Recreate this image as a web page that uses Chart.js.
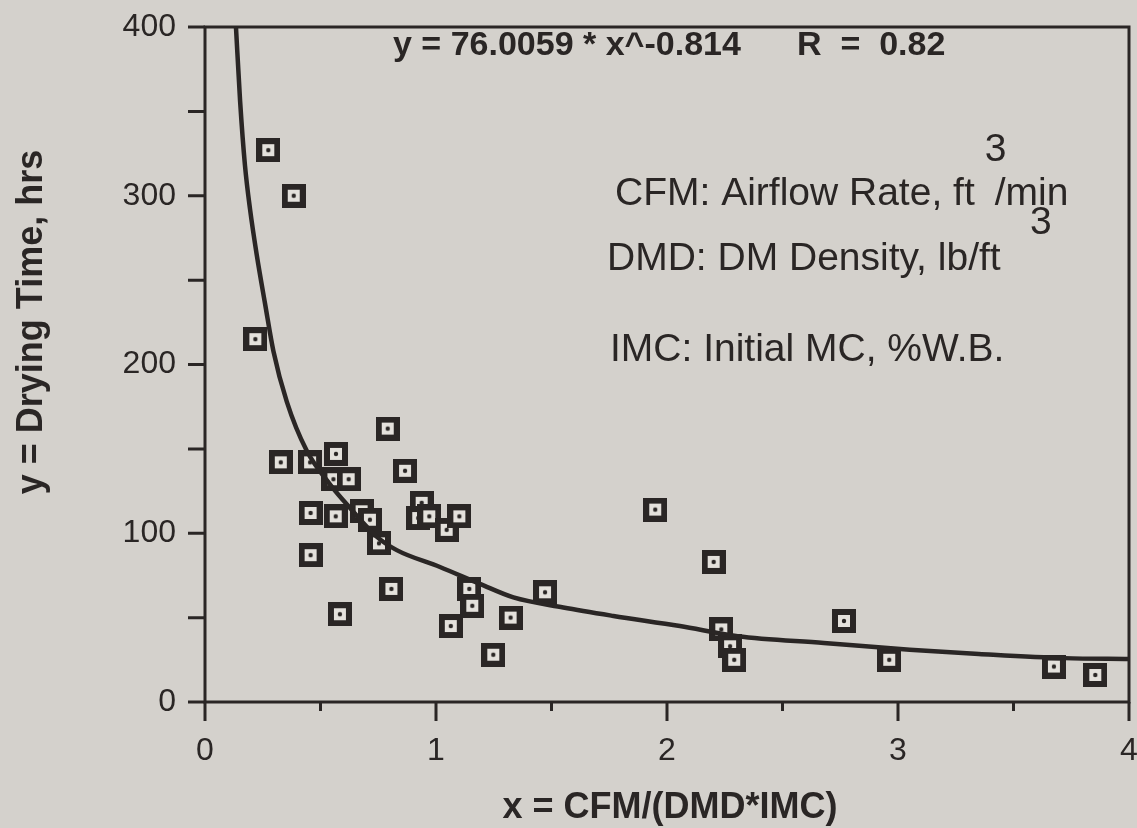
<!DOCTYPE html>
<html>
<head>
<meta charset="utf-8">
<script src="https://cdn.jsdelivr.net/npm/chart.js@4/dist/chart.umd.min.js"></script>
<style>
  html, body { margin: 0; padding: 0; background: #d4d1cc; }
  #wrap { width: 1137px; height: 828px; }
</style>
</head>
<body>
<div id="wrap"><canvas id="Chart1" width="1137" height="828"></canvas></div>
<script>
// measured points: x = CFM/(DMD*IMC), y = drying time (hrs)
const ratioX = [0.274, 0.384, 0.218, 0.328, 0.455, 0.567, 0.791, 0.866, 0.556, 0.622,
	0.457, 0.566, 0.678, 0.714, 0.753, 0.938, 0.923, 0.971, 1.046, 1.101,
	0.457, 0.807, 1.144, 1.157, 1.064, 1.323, 1.248, 1.472, 0.584, 1.949,
	2.202, 2.235, 2.273, 2.291, 2.766, 2.962, 3.675, 3.854];
const dryHours = [327, 300, 215, 142, 142, 147, 162, 137, 132, 132,
	112, 110, 113, 108, 94, 118, 109, 110, 102, 110,
	87, 67, 67, 57, 45, 50, 28, 65, 52, 114,
	83, 43, 33, 25, 48, 25, 21, 16];

// fitted curve as drawn in the figure
const fitX = [0.134, 0.152, 0.173, 0.195, 0.224, 0.26, 0.296, 0.354, 0.44, 0.541, 0.628, 0.743,
	0.83, 1.017, 1.19, 1.335, 1.551, 1.768, 2.056, 2.306, 2.679, 3.051, 3.35, 3.722, 4.0];
const fitY = [400, 356, 318, 292, 265, 236, 208, 178, 149, 129, 115, 98,
	90, 80, 70, 62, 56, 51, 45, 39, 35, 31, 28.5, 26, 25.5];

const xTickLabels = ['0', '1', '2', '3', '4'];
const yTickLabels = ['0', '100', '200', '300', '400'];

const ink = '#2a2625';
const paper = '#d4d1cc';

const makeBox = () => {
	const c = document.createElement('canvas');
	c.width = 24; c.height = 24;
	const g = c.getContext('2d');
	g.fillStyle = ink;
	g.fillRect(0, 0, 24, 24);
	g.fillStyle = '#e4e1dc';
	g.fillRect(6, 6, 12, 12);
	g.fillStyle = ink;
	g.beginPath();
	g.arc(12, 12, 2.2, 0, Math.PI * 2);
	g.fill();
	return c;
}

const pts = ratioX.map((x, i) => ({ x: x, y: dryHours[i] }));
const curve = fitX.map((x, i) => ({ x: x, y: fitY[i] }));

// frame, tick marks and the text notes
const decor = {
	id: 'decor',
	beforeDraw(chart) {
		const ctx = chart.ctx;
		ctx.save();
		ctx.fillStyle = paper;
		ctx.fillRect(0, 0, chart.width, chart.height);
		ctx.restore();
	},
	beforeDatasetsDraw(chart) {
		const ctx = chart.ctx;
		const a = chart.chartArea;
		const xs = chart.scales.x, ys = chart.scales.y;
		ctx.save();
		ctx.strokeStyle = ink;
		ctx.lineWidth = 3;
		ctx.strokeRect(a.left, a.top, a.right - a.left, a.bottom - a.top);
		ctx.beginPath();
		for (let v = 0; v <= 4.001; v += 0.5) {
			const px = xs.getPixelForValue(v);
			const len = Math.abs(v - Math.round(v)) < 0.01 ? 19 : 9;
			ctx.moveTo(px, a.bottom);
			ctx.lineTo(px, a.bottom + len);
		}
		for (let v = 0; v <= 400; v += 50) {
			const py = ys.getPixelForValue(v);
			ctx.moveTo(a.left, py);
			ctx.lineTo(a.left - 17, py);
		}
		ctx.stroke();
		ctx.restore();
	},
	afterDraw(chart) {
		const ctx = chart.ctx;
		ctx.save();
		ctx.fillStyle = ink;
		ctx.textBaseline = 'middle';
		ctx.textAlign = 'left';

		ctx.font = 'bold 34px "Liberation Sans", Arial, sans-serif';
		ctx.fillText('y = 76.0059 * x^-0.814', 393, 46);
		ctx.fillText('R  =  0.82', 797, 46);

		ctx.font = '39px "Liberation Sans", Arial, sans-serif';
		const l1 = 'CFM: Airflow Rate, ft';
		ctx.fillText(l1, 615, 194);
		const w1 = ctx.measureText(l1).width;
		ctx.fillText('3', 615 + w1 + 10, 150);
		ctx.fillText('/min', 615 + w1 + 20, 194);

		const l2 = 'DMD: DM Density, lb/ft';
		ctx.fillText(l2, 607, 259);
		ctx.fillText('3', 1030, 223);

		ctx.fillText('IMC: Initial MC, %W.B.', 610, 350);

		// axis titles
		ctx.font = 'bold 36px "Liberation Sans", Arial, sans-serif';
		ctx.textAlign = 'center';
		ctx.fillText('x = CFM/(DMD*IMC)', 670, 808);
		ctx.translate(32, 322);
		ctx.rotate(-Math.PI / 2);
		ctx.fillText('y = Drying Time, hrs', 0, 0);
		ctx.restore();
	}
};

const noPad = s => {
	s.paddingLeft = 0; s.paddingRight = 0;
	s.paddingTop = 0; s.paddingBottom = 0;
}

const renderGraph = () => {
	const ctx = document.getElementById('Chart1');
	new Chart(ctx, {
		type: 'scatter',
		data: {
			datasets: [{
				label: 'fit',
				data: curve,
				showLine: true,
				borderColor: ink,
				borderWidth: 4.5,
				pointRadius: 0,
				cubicInterpolationMode: 'monotone'
			}, {
				label: 'observed',
				data: pts,
				pointStyle: makeBox(),
				pointRadius: 12,
				pointHoverRadius: 12
			}]
		},
		options: {
			responsive: false,
			animation: false,
			events: [],
			layout: { autoPadding: false, padding: { top: 27, right: 8, left: 0, bottom: 0 } },
			plugins: { legend: { display: false }, tooltip: { enabled: false } },
			scales: {
				x: {
					type: 'linear',
					min: 0, max: 4,
					afterFit: s => { s.height = 126; noPad(s); },
					grid: { display: false, drawTicks: false },
					border: { display: false },
					ticks: {
						stepSize: 1,
						padding: 30,
						color: ink,
						font: { family: '"Liberation Sans", Arial, sans-serif', size: 32 },
						callback: (v) => xTickLabels[v] ?? ''
					}
				},
				y: {
					min: 0, max: 400,
					afterFit: s => { s.width = 205; noPad(s); },
					grid: { display: false, drawTicks: false },
					border: { display: false },
					ticks: {
						stepSize: 100,
						padding: 29,
						color: ink,
						font: { family: '"Liberation Sans", Arial, sans-serif', size: 32 },
						callback: (v) => yTickLabels[v / 100] ?? ''
					}
				}
			}
		},
		plugins: [decor]
	});
}

renderGraph();
</script>
</body>
</html>
